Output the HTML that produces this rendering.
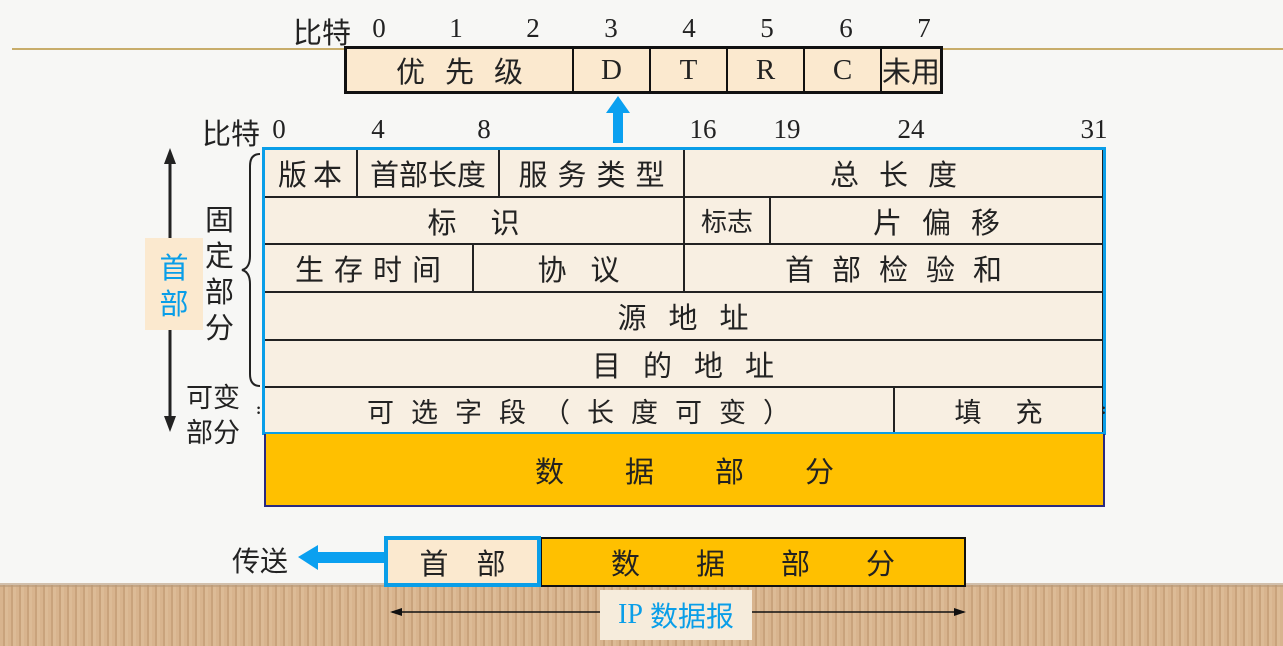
<!DOCTYPE html>
<html><head><meta charset="utf-8"><style>
body{margin:0;width:1283px;height:646px;position:relative;overflow:hidden;background:#f7f7f5;font-family:"Liberation Serif","Noto Sans CJK SC",serif;color:#222}
.a{position:absolute}
.c{--ls:8px;position:absolute;display:flex;align-items:center;justify-content:center;box-sizing:border-box;font-family:"Noto Sans CJK SC",sans-serif;font-size:29px;letter-spacing:var(--ls);padding-left:var(--ls)}
.n{position:absolute;font-size:27px;transform:translateX(-50%)}
.cell{background:#f8efe2;border-right:2px solid #222;border-bottom:2px solid #222}
</style></head><body>
<div class="a" style="left:0;top:585px;width:1283px;height:61px;background:repeating-linear-gradient(90deg,#d8b48e 0 3px,#c9a37c 3px 5px,#dcbb96 5px 8px)"></div>
<div class="a" style="left:0;top:583px;width:1283px;height:4px;background:#b89a7a;opacity:.6"></div>
<div class="a" style="left:12px;top:48px;width:1271px;height:2px;background:#c8ad6a"></div>

<div class="a" style="left:293px;top:10px;font-size:29px;font-family:'Noto Sans CJK SC',sans-serif">比特</div>
<div class="n" style="left:379px;top:13px">0</div><div class="n" style="left:456px;top:13px">1</div><div class="n" style="left:533px;top:13px">2</div><div class="n" style="left:611px;top:13px">3</div><div class="n" style="left:689px;top:13px">4</div><div class="n" style="left:767px;top:13px">5</div><div class="n" style="left:846px;top:13px">6</div><div class="n" style="left:924px;top:13px">7</div>
<div class="a" style="left:344px;top:46px;width:599px;height:48px;border:3px solid #111;box-sizing:border-box;background:#fbe9cf"></div>
<div class="c" style="left:347px;top:49px;width:227px;height:42px;border-right:2px solid #111;--ls:20px">优先级</div>
<div class="c" style="left:574px;top:49px;width:77px;height:42px;border-right:2px solid #111;font-family:'Liberation Serif';--ls:0px">D</div>
<div class="c" style="left:651px;top:49px;width:77px;height:42px;border-right:2px solid #111;font-family:'Liberation Serif';--ls:0px">T</div>
<div class="c" style="left:728px;top:49px;width:77px;height:42px;border-right:2px solid #111;font-family:'Liberation Serif';--ls:0px">R</div>
<div class="c" style="left:805px;top:49px;width:77px;height:42px;border-right:2px solid #111;font-family:'Liberation Serif';--ls:0px">C</div>
<div class="c" style="left:882px;top:49px;width:58px;height:42px;--ls:0px">未用</div>
<svg class="a" style="left:605px;top:95px" width="26" height="50"><polygon points="13,1 25,18 18,18 18,48 8,48 8,18 1,18" fill="#0aa0f0"/></svg>

<div class="a" style="left:202px;top:111px;font-size:29px;font-family:'Noto Sans CJK SC',sans-serif">比特</div>
<div class="n" style="left:279px;top:114px">0</div><div class="n" style="left:378px;top:114px">4</div><div class="n" style="left:484px;top:114px">8</div><div class="n" style="left:703px;top:114px">16</div><div class="n" style="left:787px;top:114px">19</div><div class="n" style="left:911px;top:114px">24</div><div class="n" style="left:1094px;top:114px">31</div>

<div class="a" style="left:264px;top:149px;width:840px;height:285px;background:#f8efe2"></div>
<div class="c cell" style="left:264px;top:149px;width:94px;height:49px;--ls:6px">版本</div>
<div class="c cell" style="left:358px;top:149px;width:142px;height:49px;--ls:0px">首部长度</div>
<div class="c cell" style="left:500px;top:149px;width:185px;height:49px;--ls:10px">服务类型</div>
<div class="c cell" style="left:685px;top:149px;width:419px;height:49px;--ls:20px">总长度</div>
<div class="c cell" style="left:264px;top:198px;width:421px;height:47px;--ls:34px">标识</div>
<div class="c cell" style="left:685px;top:198px;width:86px;height:47px;--ls:0px;font-size:26px">标志</div>
<div class="c cell" style="left:771px;top:198px;width:333px;height:47px;--ls:20px">片偏移</div>
<div class="c cell" style="left:264px;top:245px;width:210px;height:48px;--ls:10px">生存时间</div>
<div class="c cell" style="left:474px;top:245px;width:211px;height:48px;--ls:24px">协议</div>
<div class="c cell" style="left:685px;top:245px;width:419px;height:48px;--ls:18px">首部检验和</div>
<div class="c cell" style="left:264px;top:293px;width:840px;height:48px;--ls:22px">源地址</div>
<div class="c cell" style="left:264px;top:341px;width:840px;height:47px;--ls:22px">目的地址</div>
<div class="c cell" style="left:264px;top:388px;width:631px;height:46px;--ls:17px;font-size:27px">可选字段（长度可变）</div>
<div class="c cell" style="left:895px;top:388px;width:209px;height:46px;--ls:34px;font-size:27px">填充</div>
<div class="a" style="left:262px;top:147px;width:844px;height:288px;border:3px solid #0a9ee8;box-sizing:border-box"></div>
<div class="c" style="left:264px;top:434px;width:841px;height:73px;background:#ffc000;border:2px solid #2a2a80;border-top:none;--ls:61px">数据部分</div>
<div class="a" style="left:256px;top:401px;font-size:16px;font-weight:bold">:</div>
<div class="a" style="left:1101px;top:401px;font-size:16px;font-weight:bold">:</div>

<svg class="a" style="left:160px;top:148px" width="20" height="285"><line x1="10" y1="12" x2="10" y2="272" stroke="#222" stroke-width="3"/><polygon points="10,0 4,16 16,16" fill="#222"/><polygon points="10,284 4,268 16,268" fill="#222"/></svg>
<div class="c" style="left:145px;top:238px;width:58px;height:92px;background:#fbe9cf;color:#0a9ee8;flex-direction:column;--ls:0px;line-height:36px">首<br>部</div>
<div class="a" style="left:205px;top:200px;width:32px;font-size:29px;line-height:36px;font-family:'Noto Sans CJK SC',sans-serif">固定部分</div>
<svg class="a" style="left:240px;top:152px" width="24" height="236"><path d="M20,2 Q10,2 10,14 L10,104 Q10,116 2,118 Q10,120 10,132 L10,222 Q10,234 20,234" fill="none" stroke="#222" stroke-width="2"/></svg>
<div class="a" style="left:186px;top:378px;width:64px;font-size:27px;line-height:35px;font-family:'Noto Sans CJK SC',sans-serif">可变部分</div>

<div class="a" style="left:232px;top:540px;font-size:28px;font-family:'Noto Sans CJK SC',sans-serif">传送</div>
<svg class="a" style="left:296px;top:543px" width="92" height="30"><polygon points="2,14 22,2 22,9 90,9 90,20 22,20 22,27" fill="#0aa0f0"/></svg>
<div class="c" style="left:540px;top:537px;width:426px;height:50px;background:#ffc000;border:2px solid #111;--ls:56px">数据部分</div>
<div class="c" style="left:384px;top:536px;width:157px;height:51px;background:#fbe9cf;border:4px solid #0a9ee8;--ls:28px">首部</div>
<svg class="a" style="left:388px;top:604px" width="580" height="16"><line x1="4" y1="8" x2="576" y2="8" stroke="#111" stroke-width="1.5"/><polygon points="2,8 14,4 14,12" fill="#111"/><polygon points="578,8 566,4 566,12" fill="#111"/></svg>
<div class="c" style="left:600px;top:590px;width:152px;height:50px;background:#f6ecdc;color:#0a9ee8;--ls:0px;font-size:28px"><span style="font-family:'Liberation Serif'">IP&nbsp;</span>数据报</div>
</body></html>
